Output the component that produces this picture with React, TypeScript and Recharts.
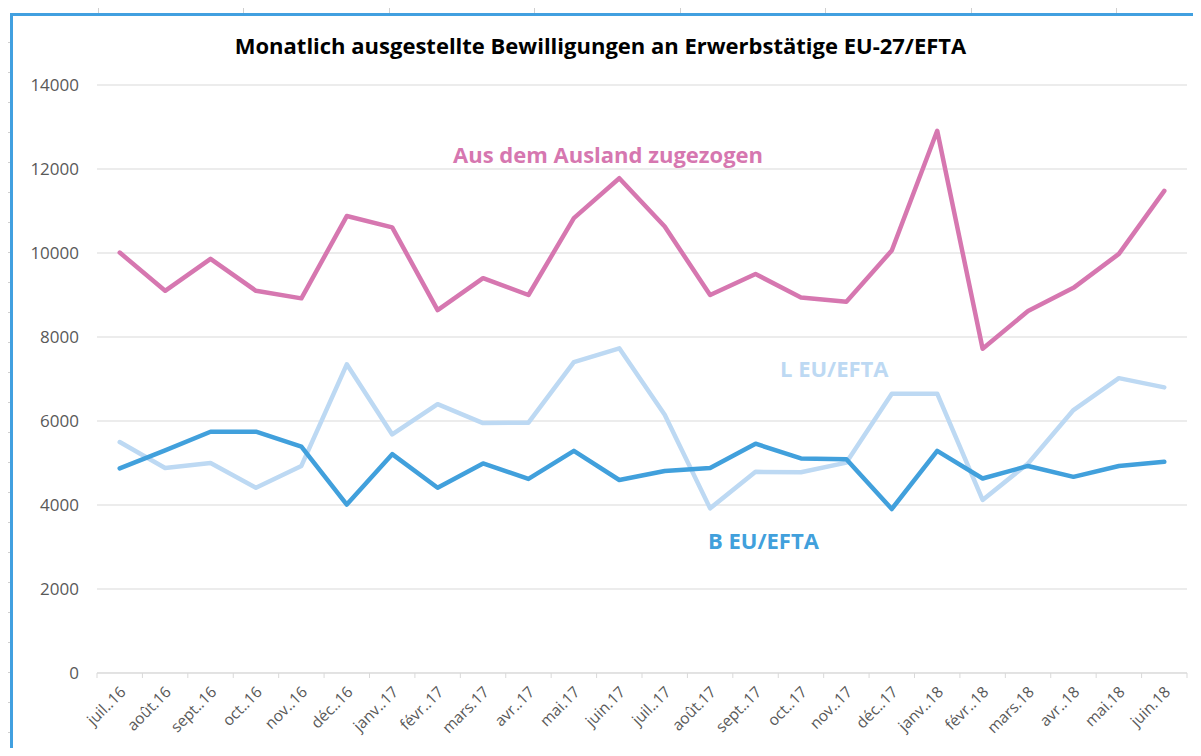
import { LineChart, Line, XAxis, YAxis, CartesianGrid } from 'recharts'

const months = [
  'juil..16', 'août.16', 'sept..16', 'oct..16', 'nov..16', 'déc..16',
  'janv..17', 'févr..17', 'mars.17', 'avr..17', 'mai.17', 'juin.17',
  'juil..17', 'août.17', 'sept..17', 'oct..17', 'nov..17', 'déc..17',
  'janv..18', 'févr..18', 'mars.18', 'avr..18', 'mai.18', 'juin.18',
]

const ausland = [
  10010, 9100, 9860, 9100, 8920, 10880, 10610, 8640, 9400, 9000, 10830, 11780,
  10630, 9000, 9500, 8940, 8840, 10060, 12910, 7720, 8620, 9170, 9980, 11480,
]

const lEuEfta = [
  5500, 4880, 5000, 4410, 4930, 7350, 5680, 6400, 5950, 5960, 7400, 7730,
  6150, 3920, 4790, 4780, 5010, 6650, 6650, 4120, 4990, 6260, 7020, 6800,
]

const bEuEfta = [
  4870, 5300, 5745, 5745, 5390, 4010, 5210, 4410, 4990, 4620, 5290, 4595,
  4810, 4880, 5460, 5110, 5090, 3905, 5290, 4630, 4930, 4670, 4930, 5030,
]

const yTicks = [0, 2000, 4000, 6000, 8000, 10000, 12000, 14000]

const data = months.map((m, i) => ({
  month: m,
  ausland: ausland[i],
  l: lEuEfta[i],
  b: bEuEfta[i],
}))

const W = 1201
const H = 756
const PLOT_LEFT = 97
const PLOT_RIGHT = 1187
const HALF_BAND = (PLOT_RIGHT - PLOT_LEFT) / months.length / 2

const FONT = '"Open Sans", "Noto Sans", sans-serif'
const PINK = '#d677b0'
const DARK_BLUE = '#41a0dc'
const LIGHT_BLUE = '#bdd9f3'

function MonthTick(props: any) {
  const { x, y, payload, index } = props
  const last = index === months.length - 1
  const tx = x + 7
  const ty = y + 20
  return (
    <g>
      <line x1={x - HALF_BAND} y1={y} x2={x - HALF_BAND} y2={y + 5} stroke="#d9d9d9" />
      {last && <line x1={x + HALF_BAND} y1={y} x2={x + HALF_BAND} y2={y + 5} stroke="#d9d9d9" />}
      <text
        x={tx}
        y={ty}
        textAnchor="end"
        transform={`rotate(-45 ${tx} ${ty})`}
        fill="#595959"
        fontSize={15.5}
        fontFamily={FONT}
      >
        {payload.value}
      </text>
    </g>
  )
}

function App() {
  const leftTicks = []
  for (let y = 42; y < H; y += 30) leftTicks.push(y)
  const topTicks = []
  for (let x = 97.5; x < W; x += 145.5) topTicks.push(x)

  return (
    <div style={{ position: 'relative', width: W, height: H, margin: -8, background: '#fff', overflow: 'hidden' }}>
      {leftTicks.map(y => (
        <div key={'l' + y} style={{ position: 'absolute', left: 5, top: y, width: 5, height: 1, background: '#d0d0d0' }} />
      ))}
      {topTicks.map(x => (
        <div key={'t' + x} style={{ position: 'absolute', left: x, top: 8, width: 1, height: 5, background: '#d0d0d0' }} />
      ))}
      <div style={{
        position: 'absolute', left: 10, top: 13, width: W, height: H,
        borderLeft: '3px solid #41a0e0', borderTop: '3px solid #41a0e0',
      }} />

      <div style={{ position: 'absolute', left: 0, top: 0 }}>
        <LineChart width={W} height={H} data={data} margin={{ top: 85, right: W - PLOT_RIGHT, bottom: 13, left: 10 }}>
          <CartesianGrid vertical={false} stroke="#d9d9d9" />
          <XAxis
            dataKey="month"
            interval={0}
            height={70}
            padding={{ left: HALF_BAND, right: HALF_BAND }}
            tickLine={false}
            tickSize={0}
            tickMargin={0}
            axisLine={{ stroke: '#d9d9d9' }}
            tick={<MonthTick />}
          />
          <YAxis
            width={87}
            domain={[0, 14000]}
            ticks={yTicks}
            axisLine={false}
            tickLine={false}
            tickSize={0}
            tickMargin={18}
            tick={{ fill: '#595959', fontSize: 17, fontFamily: FONT }}
          />
          <Line dataKey="ausland" stroke={PINK} strokeWidth={4.5} dot={false} isAnimationActive={false} strokeLinejoin="round" strokeLinecap="round" />
          <Line dataKey="l" stroke={LIGHT_BLUE} strokeWidth={4.5} dot={false} isAnimationActive={false} strokeLinejoin="round" strokeLinecap="round" />
          <Line dataKey="b" stroke={DARK_BLUE} strokeWidth={4.5} dot={false} isAnimationActive={false} strokeLinejoin="round" strokeLinecap="round" />
        </LineChart>
      </div>

      <div style={{
        position: 'absolute', left: 0, width: W, top: 30, textAlign: 'center',
        fontFamily: FONT, fontWeight: 700, fontSize: 22, color: '#000',
      }}>
        Monatlich ausgestellte Bewilligungen an Erwerbstätige EU-27/EFTA
      </div>
      <div style={{ position: 'absolute', left: 453, top: 139, fontFamily: FONT, fontWeight: 700, fontSize: 22, color: PINK }}>
        Aus dem Ausland zugezogen
      </div>
      <div style={{ position: 'absolute', left: 780, top: 353, fontFamily: FONT, fontWeight: 700, fontSize: 22, color: LIGHT_BLUE }}>
        L EU/EFTA
      </div>
      <div style={{ position: 'absolute', left: 708, top: 525, fontFamily: FONT, fontWeight: 700, fontSize: 22, color: DARK_BLUE }}>
        B EU/EFTA
      </div>
    </div>
  )
}

export default App
